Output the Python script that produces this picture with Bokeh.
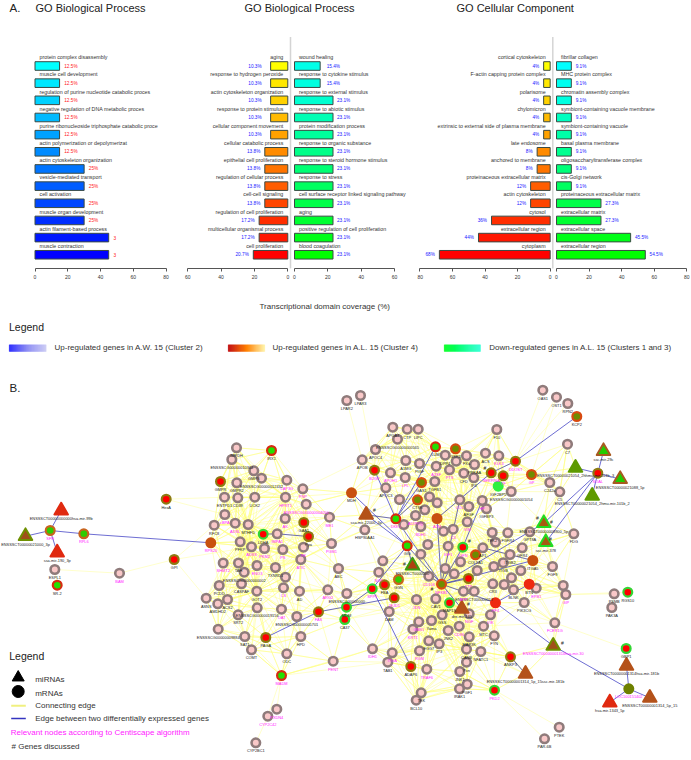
import numpy as np
from bokeh.embed import file_html
from bokeh.resources import INLINE
from bokeh.plotting import figure
from bokeh.layouts import column, row
from bokeh.models import Range1d, ColumnDataSource, FixedTicker
from bokeh.core.properties import value

FONT = value("Liberation Sans")

# ---------- Panel A data ----------
p1_labels = ["protein complex disassembly", "muscle cell development", "regulation of purine nucleotide catabolic proces",
             "negative regulation of DNA metabolic proces", "purine ribonucleoside triphosphate catabolic proce",
             "actin polymerization or depolymerizat", "actin cytoskeleton organization", "vesicle-mediated transport",
             "cell activation", "muscle organ development", "actin filament-based process", "muscle contraction"]
p1_values = [15, 15, 15, 15, 15, 15, 30, 30, 30, 30, 45, 45]
p1_text = ["12.5%"] * 6 + ["25%"] * 4 + ["3", "3"]
p1_colors = ["#00FFFF", "#00E8FF", "#00D1FF", "#00BAFF", "#00A2FF", "#008BFF", "#0074FF", "#005DFF", "#0046FF", "#002EFF", "#0017FF", "#0000FF"]

p2_labels = ["aging", "response to hydrogen peroxide", "actin cytoskeleton organization", "response to protein stimulus",
             "cellular component movement", "cellular catabolic process", "epithelial cell proliferation",
             "regulation of cellular process", "cell-cell signaling", "regulation of cell proliferation",
             "multicellular organismal process", "cell proliferation"]
p2_values = [10.3, 10.3, 10.3, 10.3, 10.3, 13.8, 13.8, 13.8, 13.8, 17.2, 17.2, 20.7]
p2_colors = ["#FFFF00", "#FFE800", "#FFD100", "#FFBA00", "#FFA200", "#FF8B00", "#FF7400", "#FF5D00", "#FF4600", "#FF2E00", "#FF1700", "#FF0000"]

p3_labels = ["wound healing", "response to cytokine stimulus", "response to external stimulus", "response to abiotic stimulus",
             "protein modification process", "response to organic substance", "response to steroid hormone stimulus",
             "response to stress", "cell surface receptor linked signaling pathway", "aging",
             "positive regulation of cell proliferation", "blood coagulation"]
p3_values = [15.4, 15.4, 23.1, 23.1, 23.1, 23.1, 23.1, 23.1, 23.1, 23.1, 23.1, 23.1]
p3_colors = ["#00FFE8", "#00FFE0", "#00FFD0", "#00FFB4", "#00FF9C", "#00FF88", "#00FF74", "#00FF60", "#00FF48", "#00FF30", "#00FF18", "#00FF00"]

p4_labels = ["cortical cytoskeleton", "F-actin capping protein complex", "polarisome", "chylomicron",
             "extrinsic to external side of plasma membrane", "late endosome", "anchored to membrane",
             "proteinaceous extracellular matrix", "actin cytoskeleton", "cytosol", "extracellular region", "cytoplasm"]
p4_values = [4, 4, 4, 4, 4, 8, 8, 12, 12, 36, 44, 68]
p4_colors = p2_colors

p5_labels = ["fibrillar collagen", "MHC protein complex", "chromatin assembly complex", "symbiont-containing vacuole membrane",
             "symbiont-containing vacuole", "basal plasma membrane", "oligosaccharyltransferase complex", "cis-Golgi network",
             "proteinaceous extracellular matrix", "extracellular matrix", "extracellular space", "extracellular region"]
p5_values = [9.1, 9.1, 9.1, 9.1, 9.1, 9.1, 9.1, 9.1, 27.3, 27.3, 45.5, 54.5]
p5_colors = ["#00FFFF", "#00FFF0", "#00FFE0", "#00FFC0", "#00FFA8", "#00FF90", "#00FF78", "#00FF60", "#00FF48", "#00FF30", "#00FF18", "#00FF00"]

titles = ["GO Biological Process", "GO Biological Process", "GO Cellular Component"]
title_x = [35, 244, 456]

# ---------- Panel B data: plain gene nodes ----------
plain_label = ["ESPL1", "BAM", "LPAR2", "LPAR3", "APOA4", "CTP", "LIPC", "ENSSSCG00000000565", "APOC4", "APOB",
               "APOH1", "A1MG", "PIGF", "LPL", "APOC3", "A2SF", "TGFB1", "", "", "",
               "", "ADIPOQ", "BDH1", "", "", "", "", "NGP", "HSP90AA1", "ME1",
               "PGM1", "ABC", "ENSSSCG000000004050", "PNP", "LAP3G", "HPRT1", "AK", "IMPA1", "PK", "PS",
               "ATIC", "TXNRD1", "", "ENO3", "TAH", "SHMT2", "PKM2", "ADSS", "PFKP", "MTHFD",
               "ADSL", "cBPA", "RFC8", "ENTPD1", "CD39", "UCK2", "GMPR2", "ENSSSCG00000012432", "GMPS", "ENSSSCG00000010364",
               "IMPDH", "OAS1", "OST1", "RPN2", "F10", "C7", "C5", "C242a", "KLK3", "ACS",
               "PRKAA", "IP4", "CFD", "FXa", "", "DPP4", "PTS", "ENSSSCG00000001054", "COL", "AFGF",
               "HP", "IGFBP3", "VIM", "C3", "", "TEK2", "FGFR4", "", "GPT8A", "FDG",
               "IGF1", "AP1", "", "ITGB2", "GFR4", "ITGB", "", "", "FGF9", "",
               "CD106", "", "", "", "", "CR3", "EPB1", "BLNK", "PIK3CG", "ENSSSCT000000017",
               "APP", "", "GIP", "PSMB", "PAK3A", "VIK", "MTC", "FYN", "NFATC1", "MAP3K",
               "CANB", "Pxn", "JNK1", "PGF1", "IRAK1", "JNK2", "CD96", "NGF", "GSS", "CAV1",
               "Yama", "GNB1", "KRT1", "JDN", "EGG7", "IP3", "RGM", "TRAF6", "ITGA", "IDH1",
               "TAB1", "TEK", "BCL10", "PTEK", "PAR-6B", "FCER1G", "ARG2", "ENSSSCG00000000", "DAM", "ENSSSCG00000005701",
               "AD", "HPD", "ODC", "PENT", "CS", "PCDD", "CASPAF", "GOT2", "ASNS", "AMDHD2",
               "ACS2", "ENSSSCG00000019156", "SRT2", "OAT", "ENSSSCG00000009884", "SAT1", "COMT", "PXDN4", "CYP2C42", "CYP2BC1",
               "ENSSSCG00000000002"]
plain_x = [54.3, 119, 346.3, 360, 392.3, 406.7, 417.7, 397, 375, 361.7,
           390, 405.3, 419, 404.7, 385.3, 435.7, 434.3, 429, 399, 424.3,
           436.7, 415, 420.3, 403.3, 427.3, 420.3, 382.3, 378.3, 364.3, 329,
           331, 338, 305.7, 302.3, 286.3, 285, 284.7, 276.7, 303, 282.3,
           300.3, 275, 285, 256.5, 238, 222.7, 264, 251, 239.7, 247.7,
           234.7, 224.3, 213.7, 224, 237.3, 254.3, 236.3, 261, 253.3, 231.3,
           236, 542.3, 556, 567.3, 496.3, 567, 559.3, 549.3, 498.3, 485,
           474, 473.3, 463.3, 466, 455.7, 444.7, 449, 510.7, 459.3, 468.3,
           481.7, 486, 466.7, 452.7, 443, 491.7, 507.3, 495, 529.3, 573.3,
           447.7, 482.3, 460, 509.5, 521.7, 502.7, 493.3, 476.7, 552, 444.7,
           428.3, 453.7, 520.3, 511, 503.7, 492.3, 535.7, 513, 523.7, 473.7,
           463, 562.7, 565.3, 613.7, 611.3, 490, 483, 493.7, 480.3, 468.7,
           466, 466, 459.3, 466.7, 459, 447.7, 458.7, 468.7, 441.7, 435.3,
           431, 418.3, 412.3, 416, 428.3, 438.7, 419, 426.3, 391.7, 372,
           387.3, 420.7, 415.7, 558.7, 544, 554.3, 327.3, 346.3, 388.7, 296.3,
           299, 300.3, 286.3, 332.7, 283, 218.7, 241, 256.3, 205.7, 217.3,
           227, 256.7, 237.7, 281, 217.7, 244.3, 251, 276.3, 267.3, 255.3,
           243.7]
plain_y = [569, 572.7, 400, 395, 426.7, 428.7, 428.7, 438.7, 449, 459.3,
           472.3, 460, 463, 477, 487.3, 465.7, 481, 496.3, 499, 509.3,
           502.3, 515, 526, 524, 544, 553.7, 560.3, 571.7, 529.3, 516.7,
           543, 568, 503.7, 488.3, 479.7, 496.7, 518, 533.3, 546.7, 549,
           559, 567, 576.7, 565, 562.5, 562.5, 548, 546.3, 541.3, 524,
           522.7, 514, 524.7, 496.7, 497.3, 496.7, 482.3, 477.7, 470.3, 459,
           447.3, 389.7, 396.7, 403, 429, 443.7, 491.3, 482, 455.3, 452.7,
           464, 477.3, 472.7, 455.3, 460.7, 454.7, 469.3, 491, 499.3, 506,
           500, 508.3, 521.3, 528.7, 530.7, 532, 532.3, 541.7, 531.3, 533.3,
           545.7, 547.3, 561.3, 554, 547.3, 562.2, 566, 570, 566, 568,
           575.7, 573.3, 570, 577.3, 584, 583.3, 587.7, 589.3, 602, 590.7,
           590.7, 585, 594, 593.3, 607, 614.3, 625.7, 635.3, 651, 636.3,
           648.7, 661.7, 671, 683.7, 688.3, 630, 625.7, 613.3, 614.3, 598.3,
           620, 621.3, 628.7, 599, 640.3, 643.3, 650.3, 668.7, 652.3, 648.3,
           661.7, 692.3, 699.7, 726.7, 738.3, 622.3, 589.3, 593, 611, 616,
           590.7, 636, 653.3, 660.7, 587.3, 585, 583.3, 590.7, 597.7, 603.3,
           599, 607.3, 614.3, 608.7, 628.7, 636, 649.3, 708.7, 715.7, 742.3,
           571.7]

# ---------- coloured gene nodes ----------
gene_label = ["SFN", "RPL6", "RPS20", "HexA", "GMPR", "GPI", "SR-2", "IRX1", "LDHA", "GAA1",
              "Ppa", "MDH", "B2GP", "LUM", "GSK3", "GAS1", "CTSK", "DKK1", "A2M", "GIG",
              "KCP2", "SOAL", "GP", "DDOST", "SERPINA", "TF", "IGF2BP5", "IGFN", "COL5A1", "ITGA5",
              "NFKB1", "TTP", "BTN", "RGS10", "PF4", "MAP1S", "ANKP3", "PKD2", "GBP1", "LOC100151402",
              "SPP1", "FBA", "GGN", "JEJD1", "MDM", "CA37", "FAS", "PAGA", "MADM", "ADAP6"]
gene_x = [49.7, 83.3, 210.3, 165.7, 220, 173.7, 56.7, 271, 262.7, 303.3,
          308, 351, 374, 435, 455, 421, 417, 395.3, 436.5, 406.7,
          576.3, 597.3, 531, 515, 490.7, 502.7, 497.7, 462.3, 475, 532.3,
          441, 468, 528.7, 627.3, 495, 449, 510, 494, 625.7, 628.3,
          371.7, 384, 398, 393.7, 346, 344.3, 318, 265.3, 281, 410.3]
gene_y = [530, 533.3, 542.3, 498.7, 481, 559, 584.7, 450, 533.7, 522,
          536, 492.3, 469.7, 446.3, 448.3, 482, 499.3, 518.3, 518, 545.3,
          416, 472.7, 474, 460.7, 472.3, 475.3, 485.7, 546.7, 554.3, 560,
          583.7, 578, 583.7, 591.7, 602.3, 602.3, 656.3, 689.7, 648, 688.3,
          588.3, 584.3, 579, 597.3, 606.7, 619, 611.3, 637, 675, 666]
gene_kind = ["go", "go", "so", "ro", "ro", "ro", "gr", "gr", "rg", "ro",
             "ro", "so", "ro", "gr", "ol", "ol", "ol", "gr", "so", "gr",
             "ol", "ro", "ol", "ro", "ro", "ro", "sg", "rg", "ol", "so",
             "ol", "ro", "sr", "rg", "sr", "rg", "ro", "rg", "rg", "sv",
             "rg", "ro", "go", "ro", "rg", "rg", "ro", "ro", "gr", "ro"]

# ---------- miRNA nodes ----------
mir_id = ["t99b", "t21000", "t190", "t22000", "tens", "t29c", "t1054a", "t1088", "t1054b", "t8900",
          "t378", "tdre", "t181a", "t30", "t181b", "t1343", "t15"]
mir_label = ["ENSSSCT00000000000hsa-mir-99b", "ENSSSCT00000021000_3p", "ssa-mir-190_3p", "ssa-mir-22000_3p", "ENSSSCT0000000",
             "ssc-mir-29c", "ENSSSCT00000021054_2hhmu-mir-101b_3", "ENSSSCT00000021088_5p", "ENSSSCT00000021054_2hmu-mir-101b_2",
             "ENSSSCT00000008900_5p", "ssc-mir-378", "dre-mir-135", "ENSSSCT00000001314_5p_15ssc-mir-181b",
             "ENSSSCT00000001314hsa-mir-30", "ENSSSCT00000001314hsa-mir-181b", "hsa-mir-1343_5p", "ENSSSCT00000001314_5p_15"]
mir_x = [60.7, 25, 56.7, 365.7, 412, 603, 575, 619.7, 591.7, 543.3, 545.3, 461.3, 525, 552.7, 626, 609.3, 649.3]
mir_y = [510, 535.7, 552, 514.3, 565, 450.7, 467.3, 478.7, 495.3, 522.7, 541.7, 608.3, 673.3, 645.3, 665.3, 702, 697.3]
mir_kind = ["red", "ob", "red", "br", "gr", "bg", "oo", "bg", "oo", "gb", "gb", "br", "br", "ob", "br", "red", "br"]

hash_x = [374, 404, 551, 537, 550, 468, 562, 431.3, 469, 484.3]
hash_y = [509, 563, 521, 517, 538, 603, 642, 588.3, 540.7, 467.3]

relevant = {"BAM", "APOH1", "LPL", "A2SF", "ADIPOQ", "BDH1", "NGP", "ME1", "PGM1", "ENSSSCG000000004050", "PNP", "LAP3G",
            "HPRT1", "AK", "IMPA1", "PK", "PS", "ATIC", "ENO3", "SHMT2", "PKM2", "ADSS", "ADSL", "cBPA", "KLK3", "PTS", "COL",
            "HP", "VIM", "C3", "IGF1", "CD106", "EPB1", "APP", "GIP", "VIK", "CD96", "NGF", "GNB1", "KRT1", "JDN", "RGM",
            "TRAF6", "ITGA", "IDH1", "FCER1G", "ARG2", "PENT", "CS", "OAT", "PXDN4", "CYP2C42", "SFN", "RPL6", "RPS20", "B2GP",
            "DKK1", "A2M", "SOAL", "GP", "DDOST", "SERPINA", "TF", "IGFN", "NFKB1", "TTP", "PF4", "PKD2", "LOC100151402",
            "SPP1", "JEJD1", "FAS", "MADM", "ENSSSCT00000001314hsa-mir-30"}

blue_edges = [("t99b", "SFN"), ("t21000", "SFN"), ("t190", "SFN"), ("SFN", "RPL6"), ("RPL6", "RPS20"),
              ("LDHA", "IMPA1"), ("IMPA1", "Ppa"), ("MDH", "GIG"), ("t22000", "DKK1"), ("t22000", "GIG"),
              ("B2GP", "DKK1"), ("DKK1", "LUM"), ("DKK1", "GAS1"), ("DKK1", "CTSK"), ("DKK1", "NFKB1"),
              ("GIG", "SPP1"), ("GIG", "tens"), ("SPP1", "MDM"), ("SPP1", "ADAP6"), ("FAS", "JEJD1"),
              ("PAGA", "FAS"), ("NFKB1", "tens"), ("NFKB1", "GIG"), ("NFKB1", "A2M"), ("NFKB1", "COL"),
              ("NFKB1", "ITGA5"), ("NFKB1", "PF4"), ("PF4", "t30"), ("t30", "LOC100151402"), ("A2M", "SERPINA"),
              ("SERPINA", "DDOST"), ("DDOST", "KCP2"), ("SOAL", "t1054a"), ("SOAL", "t29c"), ("SOAL", "t1088"),
              ("SOAL", "t1054b"), ("SOAL", "t8900"), ("SOAL", "t378"), ("t8900", "NFKB1"), ("ANKP3", "t181a"),
              ("t181b", "LOC100151402"), ("LOC100151402", "t1343"), ("LOC100151402", "t15"), ("PF4", "BTN"),
              ("HP", "IGFN"), ("NFKB1", "IGFN"), ("NFKB1", "TTP"), ("tdre", "NFKB1"), ("ITGA5", "AP1")]

outer_yellow_edges = [("ESPL1", "BAM"), ("ESPL1", "SR-2"), ("BAM", "GPI"), ("GPI", "RFC8"), ("GPI", "ADSS"), ("GPI", "ASNS"),
                      ("HexA", "ENTPD1"), ("HexA", "cBPA"), ("LPAR2", "APOB"), ("LPAR3", "B2GP"), ("OAS1", "DDOST"),
                      ("OST1", "DDOST"), ("OST1", "GP"), ("RPN2", "TF"), ("F10", "TF"), ("F10", "COL"), ("C7", "C5"), ("C7", "GP"),
                      ("C5", "C242a"), ("C5", "t8900"), ("FDG", "t378"), ("FGF9", "ITGA5"), ("PTEK", "PKD2"), ("PAR-6B", "PKD2"),
                      ("GBP1", "FCER1G"), ("FCER1G", "PF4"), ("FCER1G", "MTC"), ("RGS10", "GIP"), ("PSMB", "GIP"), ("GIP", "EPB1"),
                      ("PAK3A", "PSMB"), ("GIP", "BTN"), ("CYP2BC1", "CYP2C42"), ("CYP2C42", "MADM"), ("PXDN4", "MADM"),
                      ("MADM", "ODC"), ("MADM", "COMT"), ("MADM", "IDH1"), ("MADM", "TAB1"), ("MADM", "PENT"), ("PKD2", "IRAK1"),
                      ("PKD2", "PGF1"), ("PKD2", "JNK1"), ("BCL10", "KRT1"), ("BCL10", "RGM"), ("TEK", "CANB"), ("TEK", "IP3"),
                      ("ANKP3", "NFATC1"), ("ENSSSCG00000009884", "ASNS"), ("ENSSSCG00000009884", "SRT2"), ("PAGA", "SAT1"),
                      ("RPS20", "RFC8"), ("RPS20", "ADSS"), ("IRX1", "GMPS"), ("IRX1", "LAP3G"), ("ENSSSCG000000004050", "MDH"),
                      ("APOB", "PNP"), ("IGF2BP5", "ENSSSCG00000001054"), ("GP", "ENSSSCG00000001054"), ("GP", "C242a")]

hub_names = ["HPRT1", "ADSS", "ATIC", "PFKP", "MTHFD", "GOT2", "NFKB1", "TGFB1", "CANB", "JDN", "ITGB", "GSS", "VIM", "IGF1", "PTS", "Yama"]

# ---------- layout helpers ----------
def clean(p):
    p.grid.visible = False
    p.outline_line_color = None
    p.min_border_left = p.min_border_right = p.min_border_top = 0
    p.background_fill_color = "white"
    p.border_fill_color = "white"
    return p

TOP, BOTTOM_AXIS, STRIP = 36, 268, 285
Y0, PITCH = 65.5, 17.16

def panel(left, right, zero_px, scale, reverse, ticks, labels, vals, colors, texts, text_color, offs, dotted_px=None):
    if reverse:
        xr = Range1d((zero_px - left) / scale, (zero_px - right) / scale)
    else:
        xr = Range1d((left - zero_px) / scale, (right - zero_px) / scale)
    yr = Range1d((BOTTOM_AXIS - Y0) / PITCH, (TOP - Y0) / PITCH)
    p = clean(figure(width=right - left, height=STRIP - TOP, x_range=xr, y_range=yr, toolbar_location=None,
                     output_backend="svg", min_border_bottom=STRIP - BOTTOM_AXIS))
    p.min_border_bottom = STRIP - BOTTOM_AXIS
    p.yaxis.visible = False
    ax = p.xaxis[0]
    ax.ticker = FixedTicker(ticks=ticks)
    ax.bounds = (0, max(ticks))
    ax.axis_line_color = "#555555"
    ax.major_tick_line_color = "#555555"
    ax.major_tick_in = 0
    ax.major_tick_out = 3
    ax.minor_tick_line_color = None
    ax.major_label_text_font = "Liberation Sans"
    ax.major_label_text_font_size = "5px"
    ax.major_label_text_color = "#333333"
    ax.major_label_standoff = 3
    idx = list(range(len(vals)))
    p.hbar(y=idx, left=0, right=vals, height=0.5, fill_color=colors, line_color="#3a4a44", line_width=1)
    sgn = -1 if reverse else 1
    if reverse:
        p.text(x=[0] * 12, y=idx, text=labels, text_font=FONT, text_font_size="5.3px", text_color="#333333",
               text_align="right", text_baseline="middle", x_offset=-4.5, y_offset=-8.8)
    else:
        p.text(x=[0] * 12, y=idx, text=labels, text_font=FONT, text_font_size="5.3px", text_color="#333333",
               text_align="left", text_baseline="middle", x_offset=4.5, y_offset=-8.8)
    src = ColumnDataSource(dict(x=vals, y=idx, t=texts, o=[sgn * o for o in offs]))
    p.text(x="x", y="y", text="t", x_offset="o", source=src, text_font=FONT, text_font_size="4.7px", text_color=text_color,
           text_align="right" if reverse else "left", text_baseline="middle")
    if dotted_px is not None:
        xd = (zero_px - dotted_px) / scale
        p.segment(x0=[xd], x1=[xd], y0=[yr.start], y1=[yr.end], line_color="#aaaaaa", line_width=1.5, line_dash="1 1")
    return p

t2 = [f"{v}%" for v in p2_values]
t3 = [f"{v}%" for v in p3_values]
t4 = [f"{v}%" for v in p4_values]
t5 = [f"{v}%" for v in p5_values]

f1 = panel(0, 176, 34.5, 131 / 80, False, [0, 20, 40, 60, 80], p1_labels, p1_values, p1_colors, p1_text, "#FF2020", [4.7] * 12)
f2 = panel(176, 292, 287.3, 100 / 60, True, [0, 20, 40, 60], p2_labels, p2_values, p2_colors, t2, "#2020FF",
           [9 if v < 11 else 4.5 for v in p2_values], dotted_px=290)
f3 = panel(292, 417, 294, 100 / 60, False, [0, 20, 40, 60], p3_labels, p3_values, p3_colors, t3, "#2020FF",
           [6.5 if v < 20 else 4 for v in p3_values])
f4 = panel(417, 554, 549.67, 130.33 / 80, True, [0, 20, 40, 60, 80], p4_labels, p4_values, p4_colors, t4, "#2020FF",
           [4.5] * 12, dotted_px=552.3)
f5 = panel(554, 691, 556, 130.33 / 80, False, [0, 20, 40, 60, 80], p5_labels, p5_values, p5_colors, t5, "#2020FF", [4.3] * 12)

# ---------- header ----------
head = clean(figure(width=691, height=TOP, x_range=Range1d(0, 691), y_range=Range1d(TOP, 0), toolbar_location=None,
                    output_backend="svg", x_axis_type=None, y_axis_type=None, min_border_bottom=0))
head.min_border_bottom = 0
head.text(x=title_x, y=[7.5] * 3, text=titles, text_font=FONT, text_font_size="11px", text_color="#222222",
          text_align="left", text_baseline="middle")
head.text(x=[9], y=[7], text=["A."], text_font=FONT, text_font_size="11.5px", text_color="#222222",
          text_align="left", text_baseline="middle")

# ---------- lower figure ----------
low = clean(figure(width=691, height=760 - STRIP, x_range=Range1d(0, 691), y_range=Range1d(760, STRIP),
                   toolbar_location=None, output_backend="svg", x_axis_type=None, y_axis_type=None, min_border_bottom=0))
low.min_border_bottom = 0

def ttext(x, y, t, size="8px", color="#333333", align="left"):
    low.text(x=[x], y=[y], text=[t], text_font=FONT, text_font_size=size, text_color=color, text_align=align,
             text_baseline="middle")

ttext(259, 306, "Transcriptional domain coverage (%)")
ttext(8.5, 326, "Legend", "10.5px", "#222222")
ttext(54, 347, "Up-regulated genes in A.W. 15 (Cluster 2)")
ttext(272, 347, "Up-regulated genes in A.L. 15 (Cluster 4)")
ttext(488.7, 347, "Down-regulated genes in A.L. 15 (Clusters 1 and 3)")
ttext(9, 387, "B.", "11.5px", "#222222")

def gradient(x0, x1, y0, y1, stops, n=37):
    stops = np.array([[int(s[i:i + 2], 16) for i in (1, 3, 5)] for s in stops], float)
    edges = np.linspace(x0, x1, n + 1)
    t = np.linspace(0, len(stops) - 1, n)
    cols = []
    for u in t:
        k = min(int(u), len(stops) - 2)
        c = stops[k] + (stops[k + 1] - stops[k]) * (u - k)
        cols.append("#%02x%02x%02x" % tuple(int(v) for v in c))
    low.quad(left=edges[:-1], right=edges[1:], top=[y0] * n, bottom=[y1] * n, fill_color=cols, line_color=cols, line_width=0.3)

gradient(8.7, 45.7, 344.3, 351, ["#2020FF", "#8888F4", "#C8C8F4"])
gradient(227.7, 264.3, 344.3, 351, ["#C00000", "#FF8000", "#FFF0A0"])
gradient(443.7, 480, 344.3, 351, ["#00FF20", "#00FF80", "#20FFD0"])

# network coordinates
ids = plain_label + gene_label + mir_id
all_x = np.array(plain_x + gene_x + mir_x, float)
all_y = np.array(plain_y + gene_y + mir_y, float)
pos = {n: (x, y) for n, x, y in zip(ids, all_x, all_y) if n}

core = np.where((all_x > 200) & (all_x < 580) & (all_y > 425) & (all_y < 700))[0]
yx0, yy0, yx1, yy1 = [], [], [], []
for i in core:
    d = np.hypot(all_x[core] - all_x[i], all_y[core] - all_y[i])
    for j in core[np.argsort(d)[1:11]]:
        if np.hypot(all_x[j] - all_x[i], all_y[j] - all_y[i]) < 55:
            yx0.append(all_x[i]); yy0.append(all_y[i]); yx1.append(all_x[j]); yy1.append(all_y[j])
for h in hub_names:
    hx, hy = pos[h]
    for i in core:
        if 0 < np.hypot(all_x[i] - hx, all_y[i] - hy) < 75:
            yx0.append(hx); yy0.append(hy); yx1.append(all_x[i]); yy1.append(all_y[i])
low.segment(x0=yx0, y0=yy0, x1=yx1, y1=yy1, line_color="#FFFF70", line_width=0.9, line_alpha=0.45)
low.segment(x0=[pos[a][0] for a, b in outer_yellow_edges], y0=[pos[a][1] for a, b in outer_yellow_edges],
            x1=[pos[b][0] for a, b in outer_yellow_edges], y1=[pos[b][1] for a, b in outer_yellow_edges],
            line_color="#FFFF80", line_width=0.9, line_alpha=0.45)

low.segment(x0=[pos[a][0] for a, b in blue_edges], y0=[pos[a][1] for a, b in blue_edges],
            x1=[pos[b][0] for a, b in blue_edges], y1=[pos[b][1] for a, b in blue_edges],
            line_color="#3434C0", line_width=0.9, line_alpha=0.8)

gene_fill = {"ro": "#FF0000", "go": "#2ECC00", "gr": "#22E000", "rg": "#FF0000", "ol": "#6E8C00", "so": "#C8500F",
             "sr": "#EE2A10", "sg": "#30F040", "sv": "#6E8000"}
gene_line = {"ro": "#8C7A12", "go": "#C8641E", "gr": "#D82A10", "rg": "#33D633", "ol": "#D84A10", "so": "#C8500F",
             "sr": "#EE2A10", "sg": "#30F040", "sv": "#6E8000"}
mir_fill = {"red": "#E02A10", "ob": "#A0501A", "gb": "#A85A10", "bg": "#22CC00", "oo": "#5E9A00", "br": "#B4521A", "gr": "#B04010"}
mir_line = {"red": "#E02A10", "ob": "#6E9000", "gb": "#22DD22", "bg": "#A85A20", "oo": "#5E9A00", "br": "#B4521A", "gr": "#3C9A10"}

low.scatter(x=plain_x, y=plain_y, marker="circle", size=8.5, fill_color="#F9C8C8", line_color="#8F7B7B", line_width=2.6)
low.scatter(x=gene_x, y=gene_y, marker="circle", size=8.8, fill_color=[gene_fill[k] for k in gene_kind],
            line_color=[gene_line[k] for k in gene_kind], line_width=2.2)
low.scatter(x=mir_x, y=mir_y, marker="triangle", size=13.5, fill_color=[mir_fill[k] for k in mir_kind],
            line_color=[mir_line[k] for k in mir_kind], line_width=2, line_join="round")

lab = plain_label + gene_label + mir_label
lab_x = plain_x + gene_x + mir_x
lab_y = plain_y + gene_y + mir_y
lab_off = [7.8] * (len(plain_x) + len(gene_x)) + [8.0] * len(mir_x)
lab_col = ["#FF22FF" if t in relevant else "#222222" for t in lab]
low.text(x="x", y="y", text="t", y_offset="o", text_color="c",
         source=ColumnDataSource(dict(x=lab_x, y=lab_y, t=lab, o=lab_off, c=lab_col)),
         text_font=FONT, text_font_size="3.9px", text_align="center", text_baseline="middle")
low.text(x=hash_x, y=hash_y, text=["#"] * len(hash_x), text_font=FONT, text_font_size="5px", text_color="#222222",
         text_align="center", text_baseline="middle")

# legend of network
low.scatter(x=[17.7], y=[677], marker="triangle", size=12, fill_color="black", line_color="black")
low.scatter(x=[17.7], y=[691], marker="circle", size=12, fill_color="black", line_color="black")
low.line(x=[10.7, 25.3], y=[705.3, 705.3], line_color="#F0F080", line_width=2)
low.line(x=[10.7, 25.3], y=[718, 718], line_color="#3434C0", line_width=1.5)
ttext(8.7, 655, "Legend", "10.5px", "#222222")
ttext(34.7, 678.7, "miRNAs")
ttext(34.7, 692.7, "mRNAs")
ttext(34.7, 705.3, "Connecting edge")
ttext(34.7, 718, "Edge between two differentially expressed genes")
ttext(10.3, 731.7, "Relevant nodes according to Centiscape algorithm", color="#FF22FF")
ttext(11, 745.7, "# Genes discussed")

layout = column(head, row(f1, f2, f3, f4, f5), low)
open("out.html", "w").write(file_html(layout, INLINE))
